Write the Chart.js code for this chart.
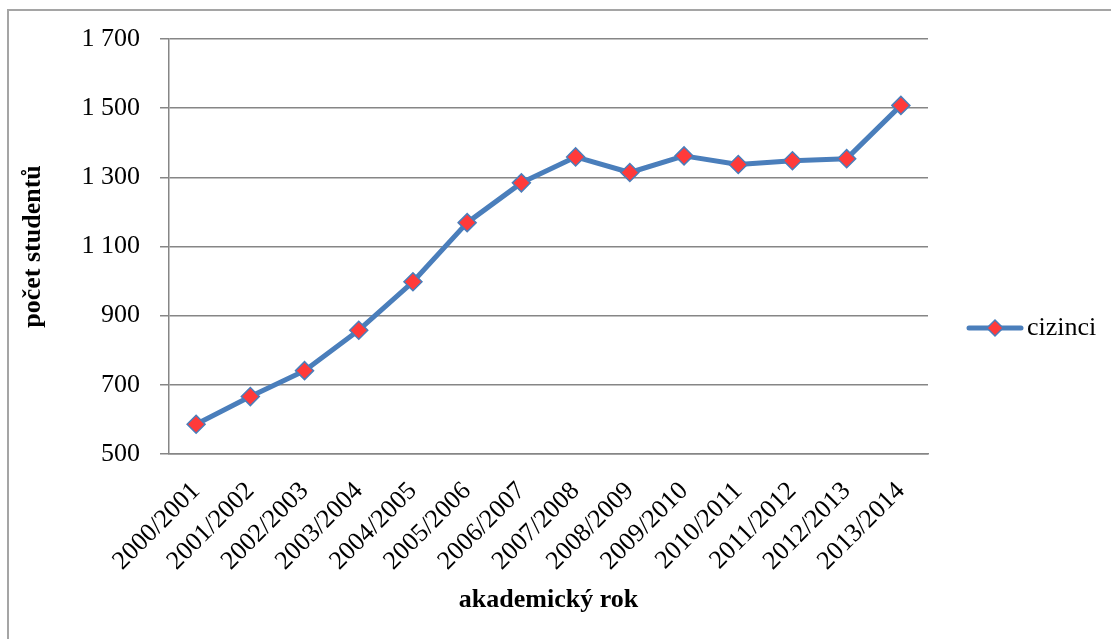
<!DOCTYPE html>
<html>
<head>
<meta charset="utf-8">
<script src="https://cdn.jsdelivr.net/npm/chart.js@4.4.0/dist/chart.umd.min.js"></script>
<style>
  html, body { margin: 0; padding: 0; background: #fff; overflow: hidden; }
  #frame {
    position: absolute; left: 7px; top: 9px; width: 1200px; height: 700px;
    border: 2px solid #a5a5a5; box-sizing: border-box;
  }
  #chart { position: absolute; left: 0; top: 0; }
</style>
</head>
<body>
<div id="frame"></div>
<canvas id="chart" width="1111" height="639"></canvas>
<script>
// Academic years (x categories)
const years = [
  "2000/2001", "2001/2002", "2002/2003", "2003/2004", "2004/2005",
  "2005/2006", "2006/2007", "2007/2008", "2008/2009", "2009/2010",
  "2010/2011", "2011/2012", "2012/2013", "2013/2014"
];
// Number of foreign students
const students = [586, 666, 741, 858, 998, 1169, 1284, 1359, 1314, 1362, 1337, 1348, 1354, 1508];
const seriesLabel = "cizinci";

// Y axis range
const Y_MIN = 500;
const Y_MAX = 1700;
const Y_STEP = 200;

const FONT = "'Liberation Serif', 'Times New Roman', serif";
const LINE_COLOR = "#4a7ebb";
const MARKER_COLOR = "#ff3a3a";
const GRID_COLOR = "#868686";

// 1700 -> "1 700"
function formatThousands(v) {
  return String(v).replace(/\B(?=(\d{3})+(?!\d))/g, " ");
}

// Legend on the right: line with a diamond marker, like Excel draws it
const lineLegend = {
  id: "lineLegend",
  afterDraw(chart) {
    const ctx = chart.ctx;
    const ds = chart.data.datasets[0];
    const y = 328;
    const cx = 995;
    const r = 8;
    ctx.save();
    ctx.strokeStyle = ds.borderColor;
    ctx.lineWidth = 5;
    ctx.lineCap = "round";
    ctx.beginPath();
    ctx.moveTo(969, y);
    ctx.lineTo(1021, y);
    ctx.stroke();
    // marker
    ctx.fillStyle = ds.pointBackgroundColor;
    ctx.strokeStyle = ds.pointBorderColor;
    ctx.lineWidth = 1.5;
    ctx.beginPath();
    ctx.moveTo(cx, y - r);
    ctx.lineTo(cx + r, y);
    ctx.lineTo(cx, y + r);
    ctx.lineTo(cx - r, y);
    ctx.closePath();
    ctx.fill();
    ctx.stroke();
    ctx.fillStyle = "#000";
    ctx.font = "26px " + FONT;
    ctx.textAlign = "left";
    ctx.textBaseline = "middle";
    ctx.fillText(ds.label, 1027, y);
    ctx.restore();
  }
};

const ctx = document.getElementById("chart").getContext("2d");

new Chart(ctx, {
  type: "line",
  data: {
    labels: years,
    datasets: [
      {
        label: seriesLabel,
        data: students,
        borderColor: LINE_COLOR,
        borderWidth: 5,
        borderCapStyle: "round",
        borderJoinStyle: "round",
        tension: 0,
        pointStyle: "rectRot",
        pointRadius: 9,
        pointBackgroundColor: MARKER_COLOR,
        pointBorderColor: LINE_COLOR,
        pointBorderWidth: 1.5,
      },
    ],
  },
  options: {
    responsive: false,
    animation: false,
    layout: {
      padding: { left: 0, right: 183, top: 39, bottom: 0 },
    },
    plugins: {
      legend: { display: false },
      tooltip: { enabled: false },
    },
    scales: {
      x: {
        offset: true,
        grid: { display: false },
        border: { display: true, color: GRID_COLOR, width: 1.5 },
        ticks: {
          color: "#000",
          font: { family: FONT, size: 26 },
          minRotation: 45,
          maxRotation: 45,
          autoSkip: false,
          padding: 14,
        },
        title: {
          display: true,
          text: "akademický rok",
          color: "#000",
          font: { family: FONT, size: 26, weight: "bold" },
          padding: { top: 0, bottom: 23 },
        },
        afterFit(scale) {
          scale.height = 185;
        },
      },
      y: {
        min: Y_MIN,
        max: Y_MAX,
        grid: {
          color: GRID_COLOR,
          lineWidth: 1.5,
          tickLength: 9,
        },
        border: { display: true, color: GRID_COLOR, width: 1.5 },
        ticks: {
          stepSize: Y_STEP,
          color: "#000",
          font: { family: FONT, size: 26 },
          padding: 20,
          callback: (v) => formatThousands(v),
        },
        title: {
          display: true,
          text: "počet studentů",
          color: "#000",
          font: { family: FONT, size: 26, weight: "bold" },
          padding: { top: 18, bottom: 0 },
        },
        afterFit(scale) {
          scale.width = 169;
        },
      },
    },
  },
  plugins: [lineLegend],
});
</script>
</body>
</html>
